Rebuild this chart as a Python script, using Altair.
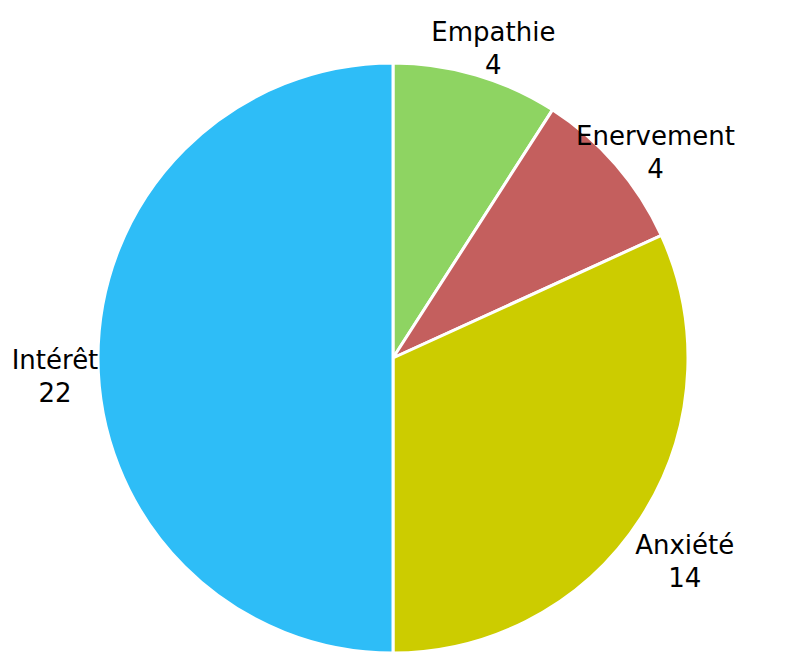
import altair as alt
import pandas as pd

categories = ["Empathie", "Enervement", "Anxiété", "Intérêt"]
counts = [4, 4, 14, 22]
colors = ["#8ed462", "#c45f5e", "#cccc00", "#2ebdf7"]

df = pd.DataFrame({"category": categories, "count": counts, "order": range(len(categories))})
df["label"] = df["category"] + "\n" + df["count"].astype(str)

base = alt.Chart(df).encode(
    theta=alt.Theta("count:Q", stack=True),
    order=alt.Order("order:Q"),
)

pie = base.mark_arc(outerRadius=295, stroke="white", strokeWidth=3).encode(
    color=alt.Color(
        "category:N",
        scale=alt.Scale(domain=categories, range=colors),
        legend=None,
    ),
    x=alt.value(385),
    y=alt.value(350),
)

labels = base.mark_text(
    radius=342,
    fontSize=26,
    font="DejaVu Sans",
    lineBreak="\n",
    lineHeight=33,
    baseline="middle",
    align="center",
    color="black",
).encode(
    text="label:N",
    x=alt.value(389),
    y=alt.value(353),
)

chart = (
    alt.layer(pie, labels)
    .properties(width=781, height=648, autosize="none", padding=0)
    .configure_view(stroke=None)
)

chart.save("out.html", embed_options={"renderer": "svg", "actions": False})
